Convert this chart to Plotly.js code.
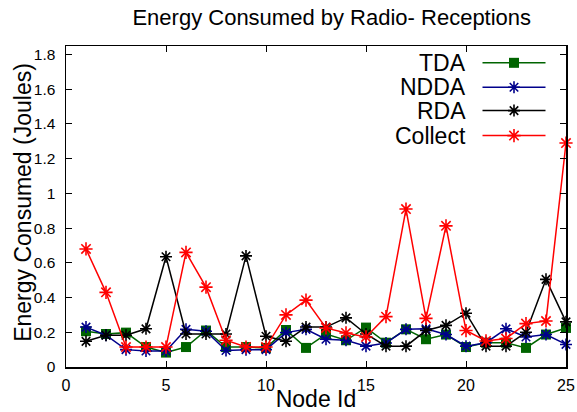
<!DOCTYPE html>
<html>
<head>
<meta charset="utf-8">
<script src="https://cdn.plot.ly/plotly-3.0.1.min.js"></script>
<style>html,body{margin:0;padding:0;background:#fff;}#chart{width:577px;height:412px;}</style>
</head>
<body>
<div id="chart"></div>
<script>
// ---- data ----
const nodeIds = [1,2,3,4,5,6,7,8,9,10,11,12,13,14,15,16,17,18,19,20,21,22,23,24,25];
const tda     = [0.206,0.19,0.198,0.115,0.083,0.115,0.21,0.115,0.115,0.11,0.213,0.11,0.19,0.154,0.227,0.14,0.217,0.16,0.187,0.115,0.14,0.14,0.11,0.187,0.225];
const ndda    = [0.23,0.183,0.10,0.092,0.092,0.217,0.206,0.095,0.10,0.10,0.198,0.217,0.16,0.154,0.12,0.138,0.217,0.22,0.187,0.12,0.14,0.22,0.173,0.187,0.13];
const rda     = [0.148,0.183,0.183,0.22,0.635,0.19,0.19,0.19,0.64,0.177,0.148,0.23,0.23,0.283,0.19,0.12,0.12,0.21,0.24,0.31,0.12,0.12,0.2,0.505,0.26];
const collect = [0.68,0.43,0.115,0.115,0.115,0.66,0.46,0.154,0.115,0.115,0.30,0.385,0.225,0.196,0.173,0.29,0.91,0.28,0.813,0.21,0.15,0.164,0.25,0.265,1.29];
const seriesNames = ["TDA","NDDA","RDA","Collect"];
const xTicks = [0,5,10,15,20,25];
const yTicks = [0,0.2,0.4,0.6,0.8,1,1.2,1.4,1.6,1.8];
const yTickLabels = ["0","0.2","0.4","0.6","0.8","1","1.2","1.4","1.6","1.8"];

// ---- styles ----
const FONT = '"Liberation Sans", Arial, Helvetica, sans-serif';
const styles = [
  {color:'#006400', symbol:'square', size:10, lw:0},
  {color:'#00008b', symbol:'asterisk', size:10, lw:1.6},
  {color:'#000000', symbol:'asterisk', size:10, lw:1.6},
  {color:'#ff0000', symbol:'asterisk', size:11, lw:1.6}
];
const seriesValues = [tda, ndda, rda, collect];

const traces = seriesValues.map((vals, i) => ({
  type:'scatter', mode:'lines+markers', name:seriesNames[i],
  x:nodeIds, y:vals,
  line:{color:styles[i].color, width:1.5},
  marker:{symbol:styles[i].symbol, size:styles[i].size, color:styles[i].color,
          line:{color:styles[i].color, width:styles[i].lw}},
  showlegend:false, cliponaxis:false
}));

// ---- custom legend (text left of sample, gnuplot style) ----
const legX0 = 0.833, legX1 = 0.959, legXm = 0.896, legTextX = 0.803;
const legY = [0.9476, 0.8715, 0.7988, 0.7208];
const annotations = [];
seriesNames.forEach((nm, i) => {
  traces.push({
    type:'scatter', mode:'lines', xaxis:'x2', yaxis:'y2', hoverinfo:'skip',
    x:[legX0, legX1], y:[legY[i], legY[i]],
    line:{color:styles[i].color, width:1.5}, showlegend:false
  });
  traces.push({
    type:'scatter', mode:'markers', xaxis:'x2', yaxis:'y2', hoverinfo:'skip',
    x:[legXm], y:[legY[i]],
    marker:{symbol:styles[i].symbol, size:styles[i].size, color:styles[i].color,
            line:{color:styles[i].color, width:styles[i].lw}},
    showlegend:false
  });
  annotations.push({
    xref:'paper', yref:'paper', x:legTextX, y:legY[i], xanchor:'right', yanchor:'middle',
    text:nm, showarrow:false, font:{family:FONT, size:23, color:'#000'}
  });
});

// y-axis title placed as in the reference
annotations.push({
  xref:'paper', yref:'paper', x:-0.085, y:0.513, xanchor:'center', yanchor:'middle',
  textangle:-90, text:'Energy Consumed (Joules)', showarrow:false,
  font:{family:FONT, size:23, color:'#000'}
});

const layout = {
  width:577, height:412,
  margin:{l:66, r:11, t:46, b:45, pad:0},
  paper_bgcolor:'#fff', plot_bgcolor:'#fff',
  font:{family:FONT, color:'#000'},
  title:{text:'Energy Consumed by Radio- Receptions', font:{family:FONT, size:22, color:'#000'},
         xref:'container', yref:'container', x:0.575, xanchor:'center', y:0.958, yanchor:'middle'},
  xaxis:{
    range:[0,25], tickvals:xTicks, ticktext:xTicks.map(String),
    ticks:'inside', ticklen:6, tickwidth:1, tickcolor:'#000',
    showline:true, linecolor:'#000', linewidth:1.5, mirror:'allticks',
    showgrid:false, zeroline:false,
    tickfont:{family:FONT, size:16, color:'#000'}, ticklabelstandoff:3,
    title:{text:'Node Id', font:{family:FONT, size:23, color:'#000'}, standoff:4}
  },
  yaxis:{
    range:[0,1.849], tickvals:yTicks, ticktext:yTickLabels,
    ticks:'inside', ticklen:6, tickwidth:1, tickcolor:'#000',
    showline:true, linecolor:'#000', linewidth:1.5, mirror:'allticks',
    showgrid:false, zeroline:false,
    tickfont:{family:FONT, size:15.5, color:'#000'}, ticklabelstandoff:6
  },
  xaxis2:{overlaying:'x', domain:[0,1], range:[0,1], visible:false, fixedrange:true},
  yaxis2:{overlaying:'y', domain:[0,1], range:[0,1], visible:false, fixedrange:true},
  annotations:annotations,
  showlegend:false
};

Plotly.newPlot('chart', traces, layout, {displayModeBar:false, staticPlot:true});
</script>
</body>
</html>
